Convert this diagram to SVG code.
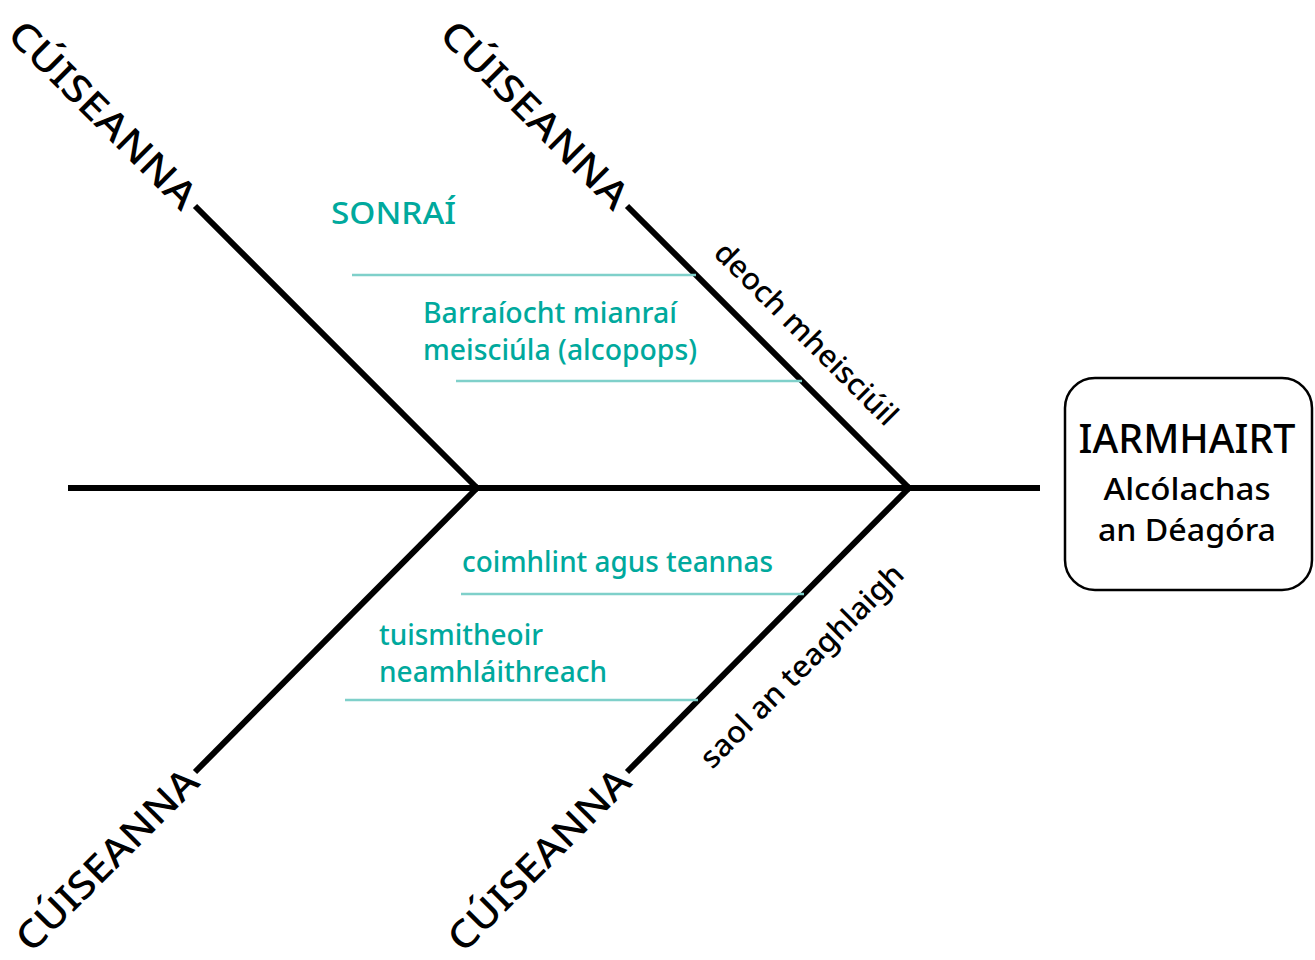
<svg xmlns="http://www.w3.org/2000/svg" width="1315" height="960" viewBox="0 0 1315 960">
<style>
.bone{stroke:#000;stroke-width:6;fill:none;stroke-linecap:butt}
.sub{stroke:#7fd0ca;stroke-width:2.5;fill:none}
.cause{font-family:"Noto Sans","DejaVu Sans",sans-serif;font-size:38px;fill:#000;font-weight:500}
.tag{font-family:"Noto Sans","DejaVu Sans",sans-serif;font-size:30px;fill:#000;font-weight:500}
.teal{font-family:"Noto Sans","DejaVu Sans",sans-serif;font-size:28px;fill:#00a99d;font-weight:500}
.box{fill:#fff;stroke:#000;stroke-width:2.5}
.bt{font-family:"Noto Sans","DejaVu Sans",sans-serif;fill:#000;text-anchor:middle;font-weight:500}
</style>
<rect width="1315" height="960" fill="#fff"/>
<g id="connectors">
<line class="bone" x1="68" y1="488" x2="1040" y2="488"/>
<line class="bone" x1="195" y1="206" x2="479" y2="490"/>
<line class="bone" x1="627" y1="206" x2="911" y2="490"/>
<line class="bone" x1="479" y1="486" x2="195" y2="772"/>
<line class="bone" x1="911" y1="486" x2="627" y2="772"/>
<line class="sub" x1="352" y1="275" x2="696" y2="275"/>
<line class="sub" x1="456" y1="381" x2="802" y2="381"/>
<line class="sub" x1="461" y1="594" x2="804" y2="594"/>
<line class="sub" x1="345" y1="700" x2="698" y2="700"/>
</g>
<g id="cause-top-left">
<text class="cause" text-anchor="end" transform="translate(191,202) rotate(45)" x="0" y="14" textLength="248" lengthAdjust="spacingAndGlyphs">CÚISEANNA</text>
</g>
<g id="cause-top-right">
<text class="cause" text-anchor="end" transform="translate(623,202) rotate(45)" x="0" y="14" textLength="248" lengthAdjust="spacingAndGlyphs">CÚISEANNA</text>
</g>
<g id="cause-bottom-left">
<text class="cause" text-anchor="end" transform="translate(192,775) rotate(-45)" x="0" y="13" textLength="240" lengthAdjust="spacingAndGlyphs">CÚISEANNA</text>
</g>
<g id="cause-bottom-right">
<text class="cause" text-anchor="end" transform="translate(624,775) rotate(-45)" x="0" y="13" textLength="240" lengthAdjust="spacingAndGlyphs">CÚISEANNA</text>
</g>
<g id="label-deoch">
<text class="tag" text-anchor="middle" transform="translate(806,334) rotate(45)" x="0" y="10" textLength="245" lengthAdjust="spacingAndGlyphs">deoch mheisciúil</text>
</g>
<g id="label-saol">
<text class="tag" text-anchor="middle" transform="translate(802,666) rotate(-45)" x="0" y="10" textLength="274" lengthAdjust="spacingAndGlyphs">saol an teaghlaigh</text>
</g>
<g id="sonrai">
<text class="teal" x="331" y="224" style="font-size:31px" textLength="125" lengthAdjust="spacingAndGlyphs">SONRAÍ</text>
</g>
<g id="detail-alcopops">
<text class="teal" x="423" y="323" textLength="254" lengthAdjust="spacingAndGlyphs">Barraíocht mianraí</text>
<text class="teal" x="423" y="360" textLength="274" lengthAdjust="spacingAndGlyphs">meisciúla (alcopops)</text>
</g>
<g id="detail-coimhlint">
<text class="teal" x="462" y="572" textLength="311" lengthAdjust="spacingAndGlyphs">coimhlint agus teannas</text>
</g>
<g id="detail-tuismitheoir">
<text class="teal" x="379" y="645" textLength="164" lengthAdjust="spacingAndGlyphs">tuismitheoir</text>
<text class="teal" x="379" y="682" textLength="228" lengthAdjust="spacingAndGlyphs">neamhláithreach</text>
</g>
<g id="effect">
<rect class="box" x="1065" y="378" width="247" height="212" rx="30"/>
<text class="bt" x="1187" y="453" style="font-size:39px" textLength="217" lengthAdjust="spacingAndGlyphs">IARMHAIRT</text>
<text class="bt" x="1187" y="500" style="font-size:31px" textLength="167" lengthAdjust="spacingAndGlyphs">Alcólachas</text>
<text class="bt" x="1187" y="541" style="font-size:31px" textLength="178" lengthAdjust="spacingAndGlyphs">an Déagóra</text>
</g>
</svg>
